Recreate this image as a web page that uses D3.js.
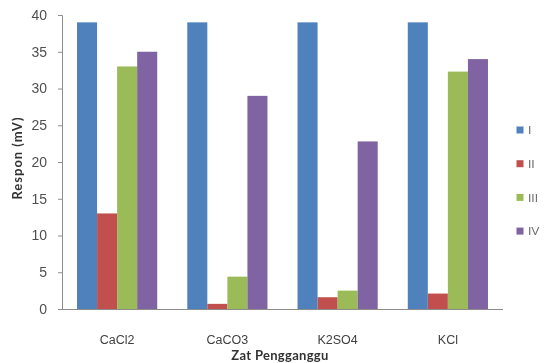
<!DOCTYPE html>
<html>
<head>
<meta charset="utf-8">
<script src="https://cdn.jsdelivr.net/npm/d3@7"></script>
<style>
  html, body { margin: 0; padding: 0; background: #fff; }
  svg { display: block; font-family: Lato, "Open Sans", sans-serif; }
</style>
</head>
<body>
<svg id="chart" width="546" height="363"></svg>
<script>
// Interfering substances on the x axis
const categories = ["CaCl2", "CaCO3", "K2SO4", "KCl"];
// Series names
const seriesNames = ["I", "II", "III", "IV"];
// Response (mV) for each series, in category order
const seriesI   = [39.0, 39.0, 39.0, 39.0];
const seriesII  = [13.0, 0.7, 1.6, 2.1];
const seriesIII = [33.0, 4.4, 2.5, 32.3];
const seriesIV  = [35.0, 29.0, 22.8, 34.0];
const yTicks = [0, 5, 10, 15, 20, 25, 30, 35, 40];
const colors = ["#4F81BD", "#C0504D", "#9BBB59", "#8064A2"];

const allSeries = [seriesI, seriesII, seriesIII, seriesIV];

const svg = d3.select("#chart");

// soft rendering of the whole figure
svg.append("defs").append("filter").attr("id", "soft")
  .append("feGaussianBlur").attr("stdDeviation", 0.45);

const root = svg.append("g").attr("filter", "url(#soft)");
const plot = { left: 62, right: 503, top: 15, bottom: 309 };

const x0 = d3.scaleBand().domain(categories)
  .range([plot.left, plot.right]).paddingInner(0.2727).paddingOuter(0.13635);
const x1 = d3.scaleBand().domain(seriesNames).range([0, x0.bandwidth()]);
const y = d3.scaleLinear().domain([0, 40]).range([plot.bottom, plot.top]);

const axisColor = "#8c8c8c";
const textColor = "#505050";

// Bars
const groups = root.append("g").selectAll("g")
  .data(categories).join("g")
  .attr("transform", d => `translate(${x0(d)},0)`);

groups.selectAll("rect")
  .data((c, ci) => seriesNames.map((s, si) => ({ s, si, v: allSeries[si][ci] })))
  .join("rect")
  .attr("x", d => x1(d.s))
  .attr("width", x1.bandwidth())
  .attr("y", d => y(d.v))
  .attr("height", d => y(0) - y(d.v))
  .attr("fill", d => colors[d.si]);

// Y axis
const yAxis = root.append("g")
  .attr("transform", `translate(${plot.left},0)`)
  .call(d3.axisLeft(y).tickValues(yTicks).tickSize(4).tickPadding(11));
yAxis.select(".domain").attr("stroke", axisColor);
yAxis.selectAll(".tick line").attr("stroke", axisColor);
yAxis.selectAll(".tick text").attr("fill", textColor)
  .style("font-size", "14px");

// X axis baseline
const xAxis = root.append("g")
  .attr("transform", `translate(0,${plot.bottom})`)
  .call(d3.axisBottom(x0).tickSize(0).tickPadding(26));
xAxis.select(".domain").attr("stroke", axisColor)
  .attr("d", `M${plot.left - 4},0.5H${plot.right}`);
xAxis.selectAll(".tick text").attr("fill", "#404040")
  .style("font-size", "12.5px");

// Axis titles
root.append("text")
  .attr("x", 280)
  .attr("y", 360)
  .attr("text-anchor", "middle")
  .attr("fill", "#333")
  .style("font-size", "13px").style("font-weight", "bold")
  .style("letter-spacing", "0.3px")
  .text("Zat Pengganggu");

root.append("text")
  .attr("transform", "translate(22,158) rotate(-90)")
  .attr("text-anchor", "middle")
  .attr("fill", "#333")
  .style("font-size", "13px").style("font-weight", "bold")
  .style("letter-spacing", "1px")
  .text("Respon (mV)");

// Legend
const legend = root.append("g").selectAll("g")
  .data(seriesNames).join("g")
  .attr("transform", (d, i) => `translate(520,${130 + i * 33.7})`);
legend.append("rect")
  .attr("x", -3.5).attr("y", -3.5).attr("width", 7).attr("height", 7)
  .attr("fill", (d, i) => colors[i]);
legend.append("text")
  .attr("x", 8).attr("y", 0).attr("dy", "0.35em")
  .attr("fill", "#707070")
  .style("font-size", "12px")
  .text(d => d);
</script>
</body>
</html>
